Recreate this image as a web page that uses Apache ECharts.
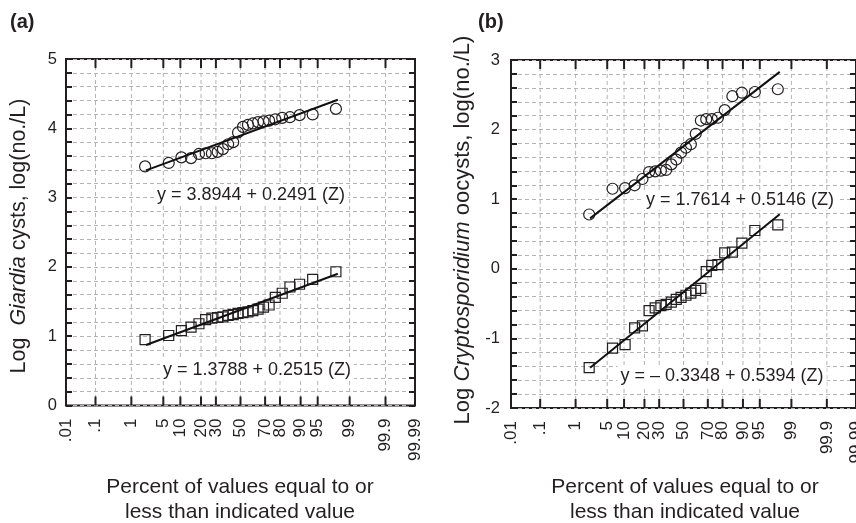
<!DOCTYPE html>
<html>
<head>
<meta charset="utf-8">
<script src="https://cdn.jsdelivr.net/npm/echarts@6/dist/echarts.min.js"></script>
<style>
html,body{margin:0;padding:0;background:#fff;}
#chart{width:856px;height:523px;}
</style>
</head>
<body>
<div id="chart"></div>
<script>
// ---------------- data ----------------
const tickPct = [0.01, 0.1, 1, 5, 10, 20, 30, 50, 70, 80, 90, 95, 99, 99.9, 99.99];
const tickLabels = ['.01', '.1', '1', '5', '10', '20', '30', '50', '70', '80', '90', '95', '99', '99.9', '99.99'];

// plotting positions (percent) of the 24 observations
const plotPct = [2.1, 6.3, 10.4, 14.6, 18.8, 22.9, 27.1, 31.3, 35.4, 39.6, 43.8, 47.9,
                 52.1, 56.3, 60.4, 64.6, 68.8, 72.9, 77.1, 81.3, 85.4, 89.6, 93.8, 97.9];

// panel (a) Giardia
const giardiaCircles = [3.45, 3.50, 3.58, 3.57, 3.63, 3.64, 3.64, 3.66, 3.70, 3.77, 3.80, 3.94,
                        4.02, 4.05, 4.07, 4.09, 4.10, 4.11, 4.13, 4.15, 4.16, 4.19, 4.20, 4.28];
const giardiaSquares = [0.95, 1.01, 1.08, 1.13, 1.18, 1.24, 1.26, 1.27, 1.28, 1.30, 1.31, 1.33,
                        1.34, 1.35, 1.37, 1.39, 1.42, 1.45, 1.56, 1.62, 1.71, 1.75, 1.82, 1.93];
// panel (b) Cryptosporidium
const cryptoCircles = [0.78, 1.15, 1.16, 1.20, 1.29, 1.39, 1.40, 1.41, 1.42, 1.50, 1.57, 1.67,
                       1.74, 1.79, 1.94, 2.13, 2.15, 2.15, 2.17, 2.28, 2.48, 2.53, 2.54, 2.58];
const cryptoSquares = [-1.42, -1.14, -1.09, -0.85, -0.82, -0.60, -0.56, -0.53, -0.51, -0.48, -0.44, -0.41,
                       -0.38, -0.35, -0.31, -0.28, -0.04, 0.05, 0.06, 0.23, 0.24, 0.37, 0.55, 0.63];

// fitted lines: y = intercept + slope * Z
const fitIntercepts = [3.8944, 1.3788, 1.7614, -0.3348];
const fitSlopes = [0.2491, 0.2515, 0.5146, 0.5394];
const fitSpanPct = [2.2, 98.1];
const fitTexts = ['y = 3.8944 + 0.2491 (Z)', 'y = 1.3788 + 0.2515 (Z)',
                  'y = 1.7614 + 0.5146 (Z)', 'y = \u2013 0.3348 + 0.5394 (Z)'];

const yRangeA = [0, 5];
const yRangeB = [-2, 3];

// ---------------- probability scale ----------------
function probit(p) {
  const a = [-3.969683028665376e+01, 2.209460984245205e+02, -2.759285104469687e+02,
             1.383577518672690e+02, -3.066479806614716e+01, 2.506628277459239e+00];
  const b = [-5.447609879822406e+01, 1.615858368580409e+02, -1.556989798598866e+02,
             6.680131188771972e+01, -1.328068155288572e+01];
  const c = [-7.784894002430293e-03, -3.223964580411365e-01, -2.400758277161838e+00,
             -2.549671500654860e+00, 4.374664141464968e+00, 2.938163982698783e+00];
  const d = [7.784695709041462e-03, 3.224671290700398e-01, 2.445134137142996e+00,
             3.754408661907416e+00];
  const pl = 0.02425, ph = 1 - pl;
  let q, r;
  if (p < pl) {
    q = Math.sqrt(-2 * Math.log(p));
    return (((((c[0]*q+c[1])*q+c[2])*q+c[3])*q+c[4])*q+c[5]) / ((((d[0]*q+d[1])*q+d[2])*q+d[3])*q+1);
  } else if (p <= ph) {
    q = p - 0.5; r = q * q;
    return (((((a[0]*r+a[1])*r+a[2])*r+a[3])*r+a[4])*r+a[5])*q / (((((b[0]*r+b[1])*r+b[2])*r+b[3])*r+b[4])*r+1);
  } else {
    q = Math.sqrt(-2 * Math.log(1 - p));
    return -(((((c[0]*q+c[1])*q+c[2])*q+c[3])*q+c[4])*q+c[5]) / ((((d[0]*q+d[1])*q+d[2])*q+d[3])*q+1);
  }
}
const zOf = pct => probit(pct / 100);
const zMin = zOf(tickPct[0]);
const zMax = zOf(tickPct[tickPct.length - 1]);

// ---------------- chart ----------------
const FONT = "'Liberation Sans', Arial, Helvetica, sans-serif";
const INK = '#231f20';
const GRIDC = '#b4b4b4';
const chart = echarts.init(document.getElementById('chart'), null, {renderer: 'canvas'});

const grids = [
  {left: 66, top: 59, width: 349, height: 346.5},
  {left: 511, top: 60, width: 349, height: 348}
];

function yAxesFor(gi, range, margin) {
  const fmt = v => (Math.abs(v - Math.round(v)) < 1e-6 ? String(Math.round(v)) : '');
  return [
    {type: 'value', gridIndex: gi, min: range[0], max: range[1], interval: 0.2, position: 'left',
     axisLine: {show: false, onZero: false},
     axisTick: {show: true, inside: true, length: 6, lineStyle: {color: INK, width: 2}},
     axisLabel: {show: true, formatter: fmt, margin: margin, color: INK, fontSize: 16.5, fontFamily: FONT,
                 showMinLabel: true, showMaxLabel: true},
     splitLine: {show: true, lineStyle: {color: GRIDC, width: 1, type: [4, 3]}}},
    {type: 'value', gridIndex: gi, min: range[0], max: range[1], interval: 0.2, position: 'right',
     axisLine: {show: false, onZero: false},
     axisTick: {show: true, inside: true, length: 6, lineStyle: {color: INK, width: 2}},
     axisLabel: {show: false}, splitLine: {show: false}}
  ];
}

function xAxisFor(gi) {
  return {type: 'value', gridIndex: gi, min: zMin, max: zMax,
          axisLine: {show: false, onZero: false}, axisTick: {show: false}, axisLabel: {show: false}, splitLine: {show: false}};
}

function tickSeries(gi, yr) {
  return {
    type: 'custom', xAxisIndex: gi, yAxisIndex: gi * 2, z: 1, silent: true, clip: false,
    data: tickPct.map(p => [zOf(p), yr[0]]),
    renderItem: function (params, api) {
      const cs = params.coordSys;
      const x = api.coord([api.value(0), yr[0]])[0];
      const top = cs.y, bot = cs.y + cs.height;
      const i = params.dataIndex;
      const children = [];
      const edge = (i === 0 || i === tickPct.length - 1);
      if (!edge) {
        children.push({type: 'line', shape: {x1: x, y1: top, x2: x, y2: bot},
          style: {stroke: GRIDC, lineWidth: 1, lineDash: [4, 3]}});
        children.push({type: 'line', shape: {x1: x, y1: bot, x2: x, y2: bot - 9},
          style: {stroke: INK, lineWidth: 2}});
        children.push({type: 'line', shape: {x1: x, y1: top, x2: x, y2: top + 9},
          style: {stroke: INK, lineWidth: 2}});
      }
      children.push({type: 'text', x: x, y: bot + 13, rotation: Math.PI / 2,
        style: {text: tickLabels[i], align: 'right', verticalAlign: 'middle',
                fontSize: 17, fontFamily: FONT, fill: INK}});
      return {type: 'group', children: children};
    }
  };
}

function scatterSeries(gi, vals, symbol, size) {
  return {type: 'scatter', xAxisIndex: gi, yAxisIndex: gi * 2, z: 4,
    symbol: symbol, symbolSize: size,
    itemStyle: {color: 'transparent', borderColor: INK, borderWidth: 1.2, opacity: 1},
    data: vals.map((v, k) => [zOf(plotPct[k]), v])};
}

function fitSeries(gi, k) {
  const z1 = zOf(fitSpanPct[0]), z2 = zOf(fitSpanPct[1]);
  return {type: 'line', xAxisIndex: gi, yAxisIndex: gi * 2, z: 5, showSymbol: false, silent: true,
    lineStyle: {color: '#111', width: 2},
    data: [[z1, fitIntercepts[k] + fitSlopes[k] * z1], [z2, fitIntercepts[k] + fitSlopes[k] * z2]]};
}

function eqText(k, cx, cy) {
  return {type: 'text', x: cx, y: cy, z: 3,
    style: {text: fitTexts[k], align: 'center', verticalAlign: 'middle', fontSize: 18, fontFamily: FONT,
            fill: INK, backgroundColor: '#fff', padding: [1, 3]}};
}

const option = {
  animation: false,
  backgroundColor: '#fff',
  grid: grids.map(g => Object.assign({show: true, borderColor: INK, borderWidth: 2, backgroundColor: 'transparent'}, g)),
  xAxis: [xAxisFor(0), xAxisFor(1)],
  yAxis: [].concat(yAxesFor(0, yRangeA, 9), yAxesFor(1, yRangeB, 11)),
  series: [
    tickSeries(0, yRangeA), tickSeries(1, yRangeB),
    scatterSeries(0, giardiaCircles, 'circle', 11),
    scatterSeries(0, giardiaSquares, 'rect', 10),
    scatterSeries(1, cryptoCircles, 'circle', 11),
    scatterSeries(1, cryptoSquares, 'rect', 10),
    fitSeries(0, 0), fitSeries(0, 1), fitSeries(1, 2), fitSeries(1, 3)
  ],
  graphic: [
    {type: 'text', left: 10, top: 12, style: {text: '(a)', fontSize: 20, fontWeight: 'bold', fontFamily: FONT, fill: INK}},
    {type: 'text', left: 478, top: 12, style: {text: '(b)', fontSize: 20, fontWeight: 'bold', fontFamily: FONT, fill: INK}},
    {type: 'text', x: 19, y: 236, rotation: Math.PI / 2,
     style: {text: 'Log  {i|Giardia} cysts, log(no./L)', align: 'center', verticalAlign: 'middle',
             fontSize: 21.5, fontFamily: FONT, fill: INK,
             rich: {i: {fontStyle: 'italic', fontSize: 21.5, fontFamily: FONT, fill: INK}}}},
    {type: 'text', x: 463, y: 230, rotation: Math.PI / 2,
     style: {text: 'Log {i|Cryptosporidium} oocysts, log(no./L)', align: 'center', verticalAlign: 'middle',
             fontSize: 22, fontFamily: FONT, fill: INK,
             rich: {i: {fontStyle: 'italic', fontSize: 22, fontFamily: FONT, fill: INK}}}},
    {type: 'text', x: 240, y: 500, style: {text: 'Percent of values equal to or\nless than indicated value',
      align: 'center', verticalAlign: 'middle', fontSize: 21, lineHeight: 25, fontFamily: FONT, fill: INK}},
    {type: 'text', x: 685, y: 500, style: {text: 'Percent of values equal to or\nless than indicated value',
      align: 'center', verticalAlign: 'middle', fontSize: 21, lineHeight: 25, fontFamily: FONT, fill: INK}},
    eqText(0, 251, 195), eqText(1, 257, 370), eqText(2, 740, 200), eqText(3, 722, 376)
  ]
};
chart.setOption(option);
</script>
</body>
</html>
